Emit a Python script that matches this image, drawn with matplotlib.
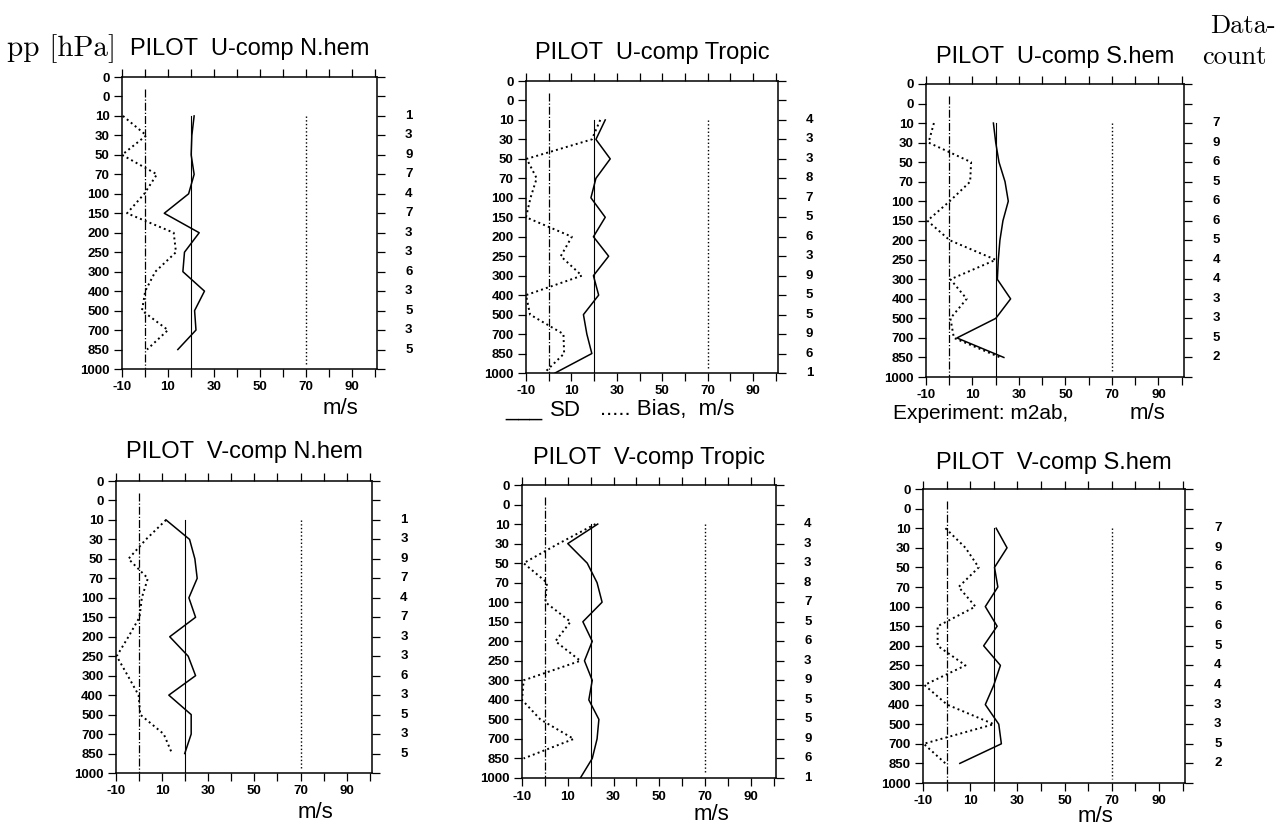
import numpy as np
import matplotlib.pyplot as plt

# pressure levels, drawn equally spaced top to bottom
levels = ['0', '0', '10', '30', '50', '70', '100', '150', '200', '250',
          '300', '400', '500', '700', '850', '1000']

titles = ['PILOT  U-comp N.hem', 'PILOT  U-comp Tropic', 'PILOT  U-comp S.hem',
          'PILOT  V-comp N.hem', 'PILOT  V-comp Tropic', 'PILOT  V-comp S.hem']

# bias (dotted) and SD (solid) in m/s, from level 10 downwards
bias_u_nh = [-9.6, 0.6, -10, 5.2, -0.3, -7.8, 12.5, 13.5, 4.5, 0.1, -1.3, 10, 0.9]
sd_u_nh = [21.4, 20.4, 20.1, 21.4, 19, 8.4, 23.6, 17.2, 16.5, 25.9, 21.6, 22.2, 14.3]
bias_u_tr = [22.7, 19, -9.7, -5.3, -8, -10, 10.2, 5.3, 14.6, -10, -8.2, 6.5, 6.8, -2]
sd_u_tr = [24.9, 20.8, 27.1, 20.8, 18.6, 24.9, 19.7, 26.4, 19.7, 22, 15.3, 16.8, 19, 2.8]
bias_u_sh = [-6.6, -8.9, 9.4, 9, 0.2, -9.4, 0.2, 20, 0.5, 7.5, 0.5, 2, 22]
sd_u_sh = [19, 20, 21.4, 24, 25.4, 23.1, 21.8, 21.1, 20.7, 26.4, 20, 3.3, 23.5]
bias_v_nh = [11.7, 3, -4.6, 3.8, 1.2, 0.2, -4.6, -9.7, -4.9, -0.2, 0.5, 10.7, 14.3]
sd_v_nh = [11.7, 21.9, 24.2, 25.2, 21.6, 24.5, 13.3, 21.3, 24.5, 12.9, 22.6, 22.6, 19.8]
bias_v_tr = [22.1, 6, -9.3, 0.9, 0.2, 11.2, 4.6, 15.5, -9.3, -10, -2, 12.6, -9.3]
sd_v_tr = [23.1, 10, 18.5, 22.8, 25, 16.6, 20.7, 17.3, 20.7, 19.2, 23.6, 22.8, 20.7, 15.5]
bias_v_sh = [-0.5, 8, 13.6, 5.1, 12.2, -3.8, -3.8, 8, -9.4, 0.2, 20, -9.7, -0.5]
sd_v_sh = [21, 25.6, 20.3, 21.7, 16.4, 21.4, 15.7, 22.8, 20, 16.4, 22.1, 23.2, 5.6]

# data counts (right column), from level 10 downwards
count_nh = [1, 3, 9, 7, 4, 7, 3, 3, 6, 3, 5, 3, 5]
count_tr = [4, 3, 3, 8, 7, 5, 6, 3, 9, 5, 5, 9, 6, 1]
count_sh = [7, 9, 6, 5, 6, 6, 5, 4, 4, 3, 3, 5, 2]

biases = [bias_u_nh, bias_u_tr, bias_u_sh, bias_v_nh, bias_v_tr, bias_v_sh]
sds = [sd_u_nh, sd_u_tr, sd_u_sh, sd_v_nh, sd_v_tr, sd_v_sh]
counts = [count_nh, count_tr, count_sh, count_nh, count_tr, count_sh]

# reference lines: dash-dot at 0, solid at 20, dotted at 70
ref_zero, ref_sd, ref_far = 0, 20, 70

W, H = 1279, 832
# axes boxes in pixels: left, top, right, bottom
boxes = [(122, 77, 377, 369), (526, 81, 778, 373), (926, 84, 1184, 377),
         (116, 481, 372, 773), (522, 485, 776, 778), (923, 489, 1185, 783)]
title_y = [49, 53, 57, 452, 458, 463]

sans = 'Liberation Sans'
serif = 'cmr10'

fig = plt.figure(figsize=(W / 100, H / 100), dpi=100)

for k in range(6):
    l, t, r, b = boxes[k]
    ax = fig.add_axes([l / W, 1 - b / H, (r - l) / W, (b - t) / H])
    ax.plot(biases[k], np.arange(2, 2 + len(biases[k])), color='black', ls=':', lw=1.4)
    ax.plot(sds[k], np.arange(2, 2 + len(sds[k])), color='black', ls='-', lw=1.1)
    ax.plot([ref_zero, ref_zero], [0.6, 15], color='black', ls='-.', lw=0.9)
    ax.plot([ref_sd, ref_sd], [2, 15], color='black', ls='-', lw=0.8)
    ax.plot([ref_far, ref_far], [2, 14.8], color='black', ls=':', lw=1.0)

    ax.set_xlim(-10, 101)
    ax.set_ylim(15, 0)
    ax.set_xticks(np.arange(-10, 101, 10))
    ax.set_xticklabels([str(v) if v % 20 == 10 else '' for v in range(-10, 101, 10)],
                       fontsize=9.5, fontweight='bold', family=sans)
    ax.set_yticks(np.arange(len(levels)))
    ax.set_yticklabels(levels, fontsize=9.5, fontweight='bold', family=sans)
    ax.tick_params(axis='x', which='both', direction='out', length=6, width=0.9,
                   top=True, pad=3)
    ax.tick_params(axis='y', direction='out', length=6, width=0.9, pad=3)
    ax.tick_params(axis='y', which='both', right=True, labelright=False)
    for side in ['left', 'right', 'top', 'bottom']:
        ax.spines[side].set_linewidth(1.1)

    for i, c in enumerate(counts[k]):
        ax.text(1.125, 2 + i, str(c), transform=ax.get_yaxis_transform(),
                ha='center', va='center', fontsize=9.5, fontweight='bold', family=sans)

    fig.text((l + r) / 2 / W, 1 - title_y[k] / H, titles[k], ha='center', va='center',
             fontsize=17, family=sans)

fig.text(7 / W, 1 - 49 / H, 'pp [hPa]', ha='left', va='center', fontsize=21, family=serif)
fig.text(1276 / W, 1 - 26 / H, 'Data-', ha='right', va='center', fontsize=19, family=serif)
fig.text(1234 / W, 1 - 57 / H, 'count', ha='center', va='center', fontsize=19, family=serif)

fs = 16
fig.text(340 / W, 1 - 409 / H, 'm/s', ha='center', va='center', fontsize=fs, family=sans)
fig.text(505 / W, 1 - 410 / H, '___', ha='left', va='center', fontsize=fs, family=sans)
fig.text(550 / W, 1 - 410 / H, 'SD', ha='left', va='center', fontsize=fs, family=sans)
fig.text(600 / W, 1 - 410 / H, '..... Bias,  m/s', ha='left', va='center',
         fontsize=fs, family=sans)
fig.text(893 / W, 1 - 413 / H, 'Experiment: m2ab,', ha='left', va='center',
         fontsize=15, family=sans)
fig.text(1130 / W, 1 - 413 / H, 'm/s', ha='left', va='center', fontsize=fs, family=sans)
fig.text(315 / W, 1 - 812 / H, 'm/s', ha='center', va='center', fontsize=fs, family=sans)
fig.text(711 / W, 1 - 815 / H, 'm/s', ha='center', va='center', fontsize=fs, family=sans)
fig.text(1095 / W, 1 - 817 / H, 'm/s', ha='center', va='center', fontsize=fs, family=sans)

fig.savefig('out.png', dpi=100)
